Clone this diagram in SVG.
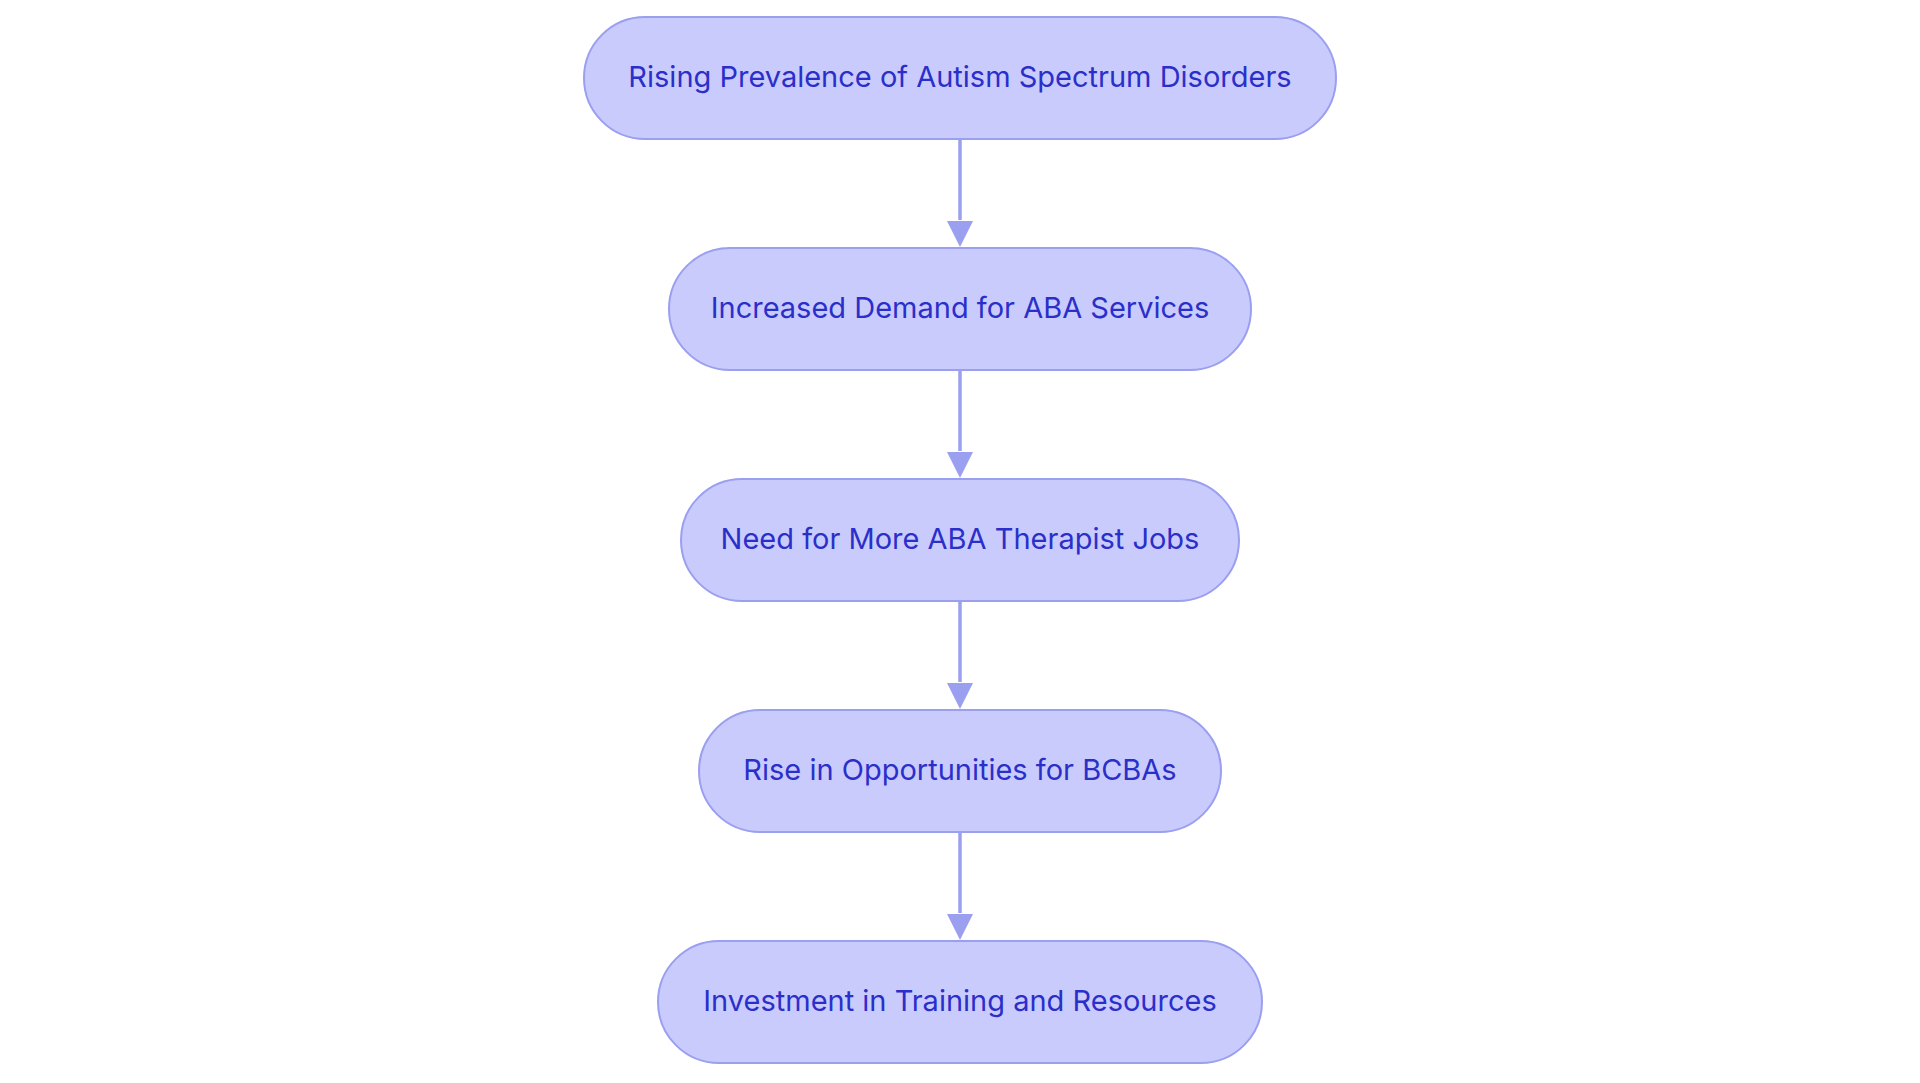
<svg xmlns="http://www.w3.org/2000/svg" width="1920" height="1083" viewBox="0 0 1920 1083">
<style>
.node rect{fill:#C9CBFD;stroke:#9A9FF0;stroke-width:2}
.node text{font-family:Inter,"Noto Sans","Liberation Sans",sans-serif;font-size:29px;fill:#2B2FC9;text-anchor:middle;dominant-baseline:central}
.edge{stroke:#9A9FF0;stroke-width:3.5;fill:none}
.head{fill:#9A9FF0}
</style>
<rect width="1920" height="1083" fill="#FFFFFF"/>
<g id="connectors">
<path class="edge" d="M960,139 L960,220"/><path class="head" d="M947,221 L973,221 L960,247 Z"/>
<path class="edge" d="M960,370 L960,451"/><path class="head" d="M947,452 L973,452 L960,478 Z"/>
<path class="edge" d="M960,601 L960,682"/><path class="head" d="M947,683 L973,683 L960,709 Z"/>
<path class="edge" d="M960,832 L960,913"/><path class="head" d="M947,914 L973,914 L960,940 Z"/>
</g>
<g id="n1" class="node"><rect x="584" y="17" width="752" height="122" rx="61"/><text x="960" y="76">Rising Prevalence of Autism Spectrum Disorders</text></g>
<g id="n2" class="node"><rect x="669" y="248" width="582" height="122" rx="61"/><text x="960" y="307">Increased Demand for ABA Services</text></g>
<g id="n3" class="node"><rect x="681" y="479" width="558" height="122" rx="61"/><text x="960" y="538">Need for More ABA Therapist Jobs</text></g>
<g id="n4" class="node"><rect x="699" y="710" width="522" height="122" rx="61"/><text x="960" y="769">Rise in Opportunities for BCBAs</text></g>
<g id="n5" class="node"><rect x="658" y="941" width="604" height="122" rx="61"/><text x="960" y="1000">Investment in Training and Resources</text></g>
</svg>
